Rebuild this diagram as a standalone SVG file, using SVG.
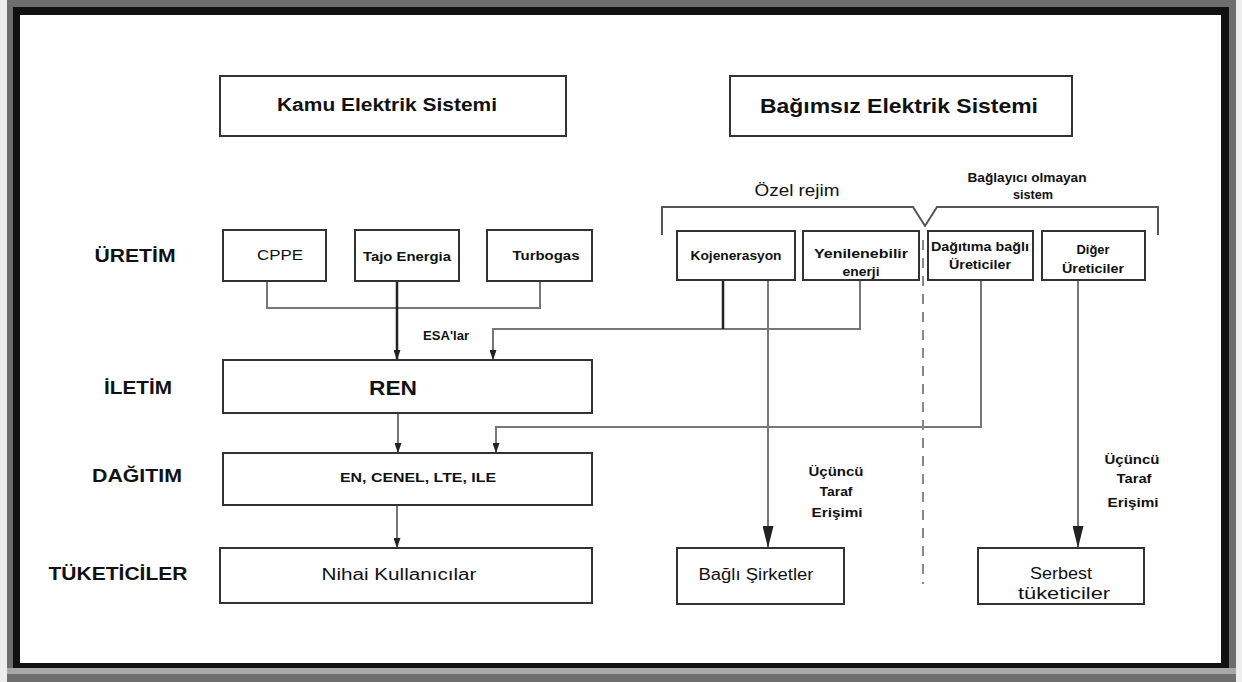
<svg xmlns="http://www.w3.org/2000/svg" width="1242" height="682" viewBox="0 0 1242 682">
<style>
.box{fill:#fff;stroke:#333;stroke-width:2}
.ln{fill:none;stroke:#777;stroke-width:2}
.lnd{fill:none;stroke:#222;stroke-width:2.5}
.t{font-family:"Liberation Sans","DejaVu Sans",sans-serif;fill:#111;text-anchor:middle}
.b{font-weight:bold}
.row{font-family:"Liberation Sans","DejaVu Sans",sans-serif;font-weight:bold;font-size:18px;fill:#111;text-anchor:middle}
</style>
<defs>
<marker id="arrS" markerUnits="userSpaceOnUse" markerWidth="10" markerHeight="7" refX="10" refY="3.5" orient="auto"><path d="M0,0 L10,3.5 L0,7 z" fill="#222"/></marker>
<marker id="arrB" markerUnits="userSpaceOnUse" markerWidth="22" markerHeight="11" refX="22" refY="5.5" orient="auto"><path d="M0,0 L22,5.5 L0,11 z" fill="#222"/></marker>
</defs>
<g id="frame">
<rect x="0" y="0" width="1242" height="682" fill="#eeeeee"/>
<rect x="7" y="0" width="1229" height="682" fill="#6e6e6e"/>
<rect x="7" y="668" width="1229" height="6" fill="#a8a8a8"/>
<rect x="13" y="7" width="1216" height="661" fill="#111"/>
<rect x="20" y="15" width="1201" height="648" fill="#fff"/>
</g>
<g id="connectors">
<path class="ln" d="M267,281 V308 H540 V281"/>
<path class="lnd" d="M397,281 V360" marker-end="url(#arrS)"/>
<path class="ln" d="M860,280 V329 H493 V360" marker-end="url(#arrS)"/>
<path class="lnd" d="M723,280 V329"/>
<path class="ln" d="M398,413 V453" marker-end="url(#arrS)"/>
<path class="ln" d="M981,280 V427 H496 V453" marker-end="url(#arrS)"/>
<path class="ln" d="M397,505 V548" marker-end="url(#arrS)"/>
<path class="ln" d="M768,280 V548" marker-end="url(#arrB)"/>
<path class="ln" d="M1078,280 V548" marker-end="url(#arrB)"/>
<path d="M923,240 V584" fill="none" stroke="#888" stroke-width="2" stroke-dasharray="10,8"/>
<path d="M662,235 V207 H913 L925,226 L937,207 H1158 V235" fill="none" stroke="#555" stroke-width="2"/>
</g>
<g id="labels">
<text class="t" x="797" y="196" font-size="16" textLength="85" lengthAdjust="spacingAndGlyphs">Özel rejim</text>
<text class="t b" x="1027" y="182" font-size="13" textLength="119" lengthAdjust="spacingAndGlyphs">Bağlayıcı olmayan</text>
<text class="t b" x="1033" y="199" font-size="13" textLength="40" lengthAdjust="spacingAndGlyphs">sistem</text>
<text class="t b" x="446" y="340" font-size="13" textLength="46" lengthAdjust="spacingAndGlyphs">ESA'lar</text>
<text class="t b" x="836" y="476" font-size="12" textLength="55" lengthAdjust="spacingAndGlyphs">Üçüncü</text>
<text class="t b" x="836" y="496" font-size="12" textLength="33" lengthAdjust="spacingAndGlyphs">Taraf</text>
<text class="t b" x="837" y="517" font-size="12" textLength="51" lengthAdjust="spacingAndGlyphs">Erişimi</text>
<text class="t b" x="1132" y="464" font-size="12" textLength="55" lengthAdjust="spacingAndGlyphs">Üçüncü</text>
<text class="t b" x="1134" y="483" font-size="12" textLength="35" lengthAdjust="spacingAndGlyphs">Taraf</text>
<text class="t b" x="1133" y="507" font-size="12" textLength="51" lengthAdjust="spacingAndGlyphs">Erişimi</text>
<text class="row" x="135" y="262" textLength="81" lengthAdjust="spacingAndGlyphs">ÜRETİM</text>
<text class="row" x="138" y="394" textLength="68" lengthAdjust="spacingAndGlyphs">İLETİM</text>
<text class="row" x="137" y="482" textLength="90" lengthAdjust="spacingAndGlyphs">DAĞITIM</text>
<text class="row" x="118" y="580" textLength="139" lengthAdjust="spacingAndGlyphs">TÜKETİCİLER</text>
</g>
<g id="kamu"><rect class="box" x="220" y="76" width="346" height="60"/><text class="t b" x="387" y="111" font-size="18" textLength="220" lengthAdjust="spacingAndGlyphs">Kamu Elektrik Sistemi</text></g>
<g id="bagimsiz"><rect class="box" x="730" y="76" width="342" height="60"/><text class="t b" x="899" y="113" font-size="21" textLength="278" lengthAdjust="spacingAndGlyphs">Bağımsız Elektrik Sistemi</text></g>
<g id="cppe"><rect class="box" x="223" y="230" width="103" height="51"/><text class="t" x="280" y="260" font-size="15" textLength="46" lengthAdjust="spacingAndGlyphs">CPPE</text></g>
<g id="tajo"><rect class="box" x="355" y="230" width="104" height="51"/><text class="t b" x="407" y="261" font-size="12" textLength="88" lengthAdjust="spacingAndGlyphs">Tajo Energia</text></g>
<g id="turbogas"><rect class="box" x="487" y="230" width="105" height="51"/><text class="t b" x="546" y="260" font-size="12" textLength="67" lengthAdjust="spacingAndGlyphs">Turbogas</text></g>
<g id="kojenerasyon"><rect class="box" x="677" y="231" width="118" height="49"/><text class="t b" x="736" y="260" font-size="13" textLength="91" lengthAdjust="spacingAndGlyphs">Kojenerasyon</text></g>
<g id="yenilenebilir"><rect class="box" x="803" y="231" width="116" height="49"/><text class="t b" x="861" y="258" font-size="13" textLength="94" lengthAdjust="spacingAndGlyphs">Yenilenebilir</text><text class="t b" x="861" y="276" font-size="13" textLength="37" lengthAdjust="spacingAndGlyphs">enerji</text></g>
<g id="dagitima"><rect class="box" x="928" y="231" width="105" height="49"/><text class="t b" x="980" y="251" font-size="12" textLength="98" lengthAdjust="spacingAndGlyphs">Dağıtıma bağlı</text><text class="t b" x="980" y="269" font-size="12" textLength="62" lengthAdjust="spacingAndGlyphs">Üreticiler</text></g>
<g id="diger"><rect class="box" x="1042" y="231" width="103" height="49"/><text class="t b" x="1093" y="254" font-size="12" textLength="33" lengthAdjust="spacingAndGlyphs">Diğer</text><text class="t b" x="1093" y="273" font-size="12" textLength="62" lengthAdjust="spacingAndGlyphs">Üreticiler</text></g>
<g id="ren"><rect class="box" x="223" y="360" width="369" height="53"/><text class="t b" x="393" y="395" font-size="20" textLength="48" lengthAdjust="spacingAndGlyphs">REN</text></g>
<g id="dagitim"><rect class="box" x="223" y="453" width="369" height="52"/><text class="t b" x="418" y="482" font-size="13" textLength="156" lengthAdjust="spacingAndGlyphs">EN, CENEL, LTE, ILE</text></g>
<g id="nihai"><rect class="box" x="220" y="548" width="372" height="55"/><text class="t" x="399" y="580" font-size="16" textLength="155" lengthAdjust="spacingAndGlyphs">Nihai Kullanıcılar</text></g>
<g id="bagli"><rect class="box" x="677" y="548" width="167" height="56"/><text class="t" x="756" y="580" font-size="16" textLength="115" lengthAdjust="spacingAndGlyphs">Bağlı Şirketler</text></g>
<g id="serbest"><rect class="box" x="978" y="548" width="166" height="56"/><text class="t" x="1061" y="579" font-size="16" textLength="62" lengthAdjust="spacingAndGlyphs">Serbest</text><text class="t" x="1064" y="599" font-size="16" textLength="92" lengthAdjust="spacingAndGlyphs">tüketiciler</text></g>
</svg>
